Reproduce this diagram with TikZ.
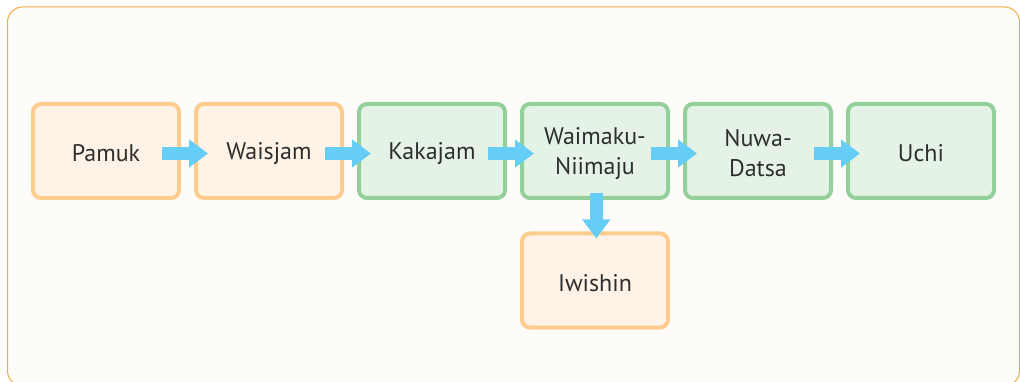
\documentclass[tikz,border=0pt]{standalone}
\usepackage{fontspec}
\setmainfont{PT Sans}
\usetikzlibrary{arrows.meta}
\definecolor{framec}{HTML}{F5AC45}
\definecolor{bgc}{HTML}{FEFCF8}
\definecolor{orb}{HTML}{FFCC8F}
\definecolor{orf}{HTML}{FEF3E6}
\definecolor{grb}{HTML}{93D09B}
\definecolor{grf}{HTML}{E5F3E7}
\definecolor{arc}{HTML}{66CEF6}
\definecolor{txt}{HTML}{2E2E2E}
\tikzset{
  box/.style={rectangle, rounded corners=8pt, line width=4pt, minimum width=146pt, minimum height=94pt, inner sep=0pt},
  obox/.style={box, draw=orb, fill=orf},
  gbox/.style={box, draw=grb, fill=grf},
  lbl/.style={align=center, text=txt, font=\fontsize{24}{30}\selectfont, inner sep=0pt},
  flow/.style={draw=arc, line width=13pt, -{Triangle[width=27pt,length=19pt]}},
}
\begin{document}
\begin{tikzpicture}[x=1pt,y=-1pt]
\useasboundingbox (0,0) rectangle (1020,382);
\fill[white] (0,0) rectangle (1020,382);
\begin{scope}
\clip (0,0) rectangle (1020,382);
\draw[framec, fill=bgc, line width=1pt, rounded corners=15pt] (7.5,7) rectangle (1019.5,386);
\end{scope}
\node[obox] (pamuk) at (106,151) {};
\node[obox] (waisjam) at (269,151) {};
\node[gbox] (kakajam) at (432,151) {};
\node[gbox] (waimaku) at (595,151) {};
\node[gbox] (nuwa) at (758,151) {};
\node[gbox] (uchi) at (921,151) {};
\node[obox] (iwishin) at (595,280.5) {};
\node[lbl] (pamukt) at ([yshift=-2.5pt]pamuk.center) {Pamuk};
\node[lbl] (waisjamt) at ([yshift=-2.5pt]waisjam.center) {Waisjam};
\node[lbl] (kakajamt) at ([yshift=-2.5pt]kakajam.center) {Kakajam};
\node[lbl] (waimakut) at ([yshift=-2.5pt]waimaku.center) {Waimaku-\\Niimaju};
\node[lbl] (nuwat) at ([yshift=-2.5pt]nuwa.center) {Nuwa-\\Datsa};
\node[lbl] (uchit) at ([yshift=-2.5pt]uchi.center) {Uchi};
\node[lbl] (iwishint) at ([yshift=-2.5pt]iwishin.center) {Iwishin};
\foreach \a/\b in {pamuk/waisjam, waisjam/kakajam, kakajam/waimaku, waimaku/nuwa, nuwa/uchi}
  \draw[flow] ([xshift=-19pt,yshift=-2.5pt]\a.east) -- ([xshift=14pt,yshift=-2.5pt]\b.west);
\draw[flow] ([xshift=1.3pt,yshift=7pt]waimaku.south) -- ([xshift=1.3pt,yshift=-7pt]iwishin.north);
\end{tikzpicture}
\end{document}
